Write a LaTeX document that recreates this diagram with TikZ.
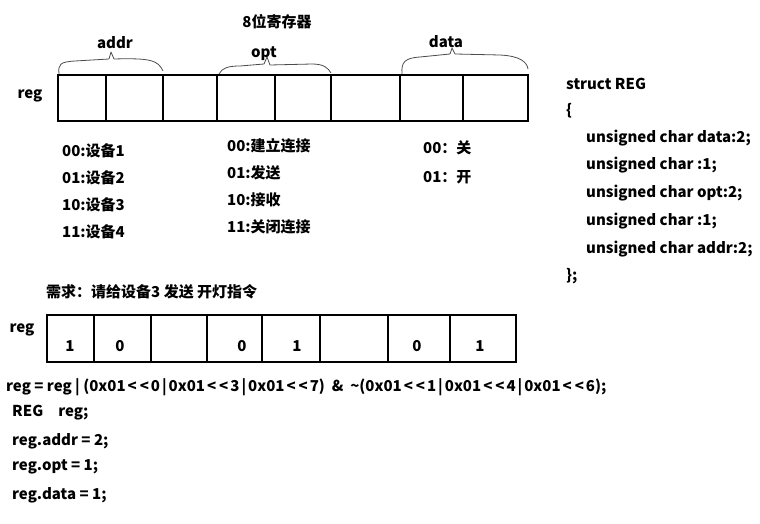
\documentclass[tikz,border=0pt]{standalone}
\usepackage{fontspec}
\setmainfont{Noto Sans CJK SC}
\usetikzlibrary{positioning}
\tikzset{
  lbl/.style={font=\fontsize{15}{17}\selectfont\bfseries, inner sep=0pt},
  txt/.style={lbl, anchor=west},
  cellbox/.style={draw, line width=2.4pt},
  brc/.style={draw=black!70, line width=0.8pt, line join=round}
}
\newcommand\shl{\kern2pt<\kern3pt<\kern2pt}
\newcommand\bor{\kern2pt|\kern2pt}

\begin{document}
\begin{tikzpicture}[x=1pt,y=-1pt]
    \useasboundingbox (0,0) rectangle (760,524);

    % Title and field names
    \node[lbl] (title) at (277,22) {8位寄存器};
    \node[lbl] (addrname) at (115,43) {addr};
    \node[lbl] (optname) at (264,54) {opt};
    \node[lbl] (dataname) at (446,42) {data};

    % Upper register, 8 cells
    \node[lbl] (reg1) at (30,96) {reg};
    \draw[cellbox] (58,75) rectangle (528,121);
    \foreach \x in {106,163,217,275,331,400,463} {
        \draw[cellbox] (\x,75) -- (\x,121);
    }

    % Hand drawn braces
    \draw[brc] (59,74) .. controls (58,64) and (60,62) .. (75,61) -- (109,59) -- (111,52) -- (114,59)
        .. controls (150,58) and (158,60) .. (163,71);
    \draw[brc] (219,74) .. controls (222,68) and (228,66) .. (240,66) -- (264,64) -- (267,57) -- (270,65)
        -- (312,64) .. controls (324,64) and (328,68) .. (331,73);
    \draw[brc] (402,74) .. controls (401,62) and (405,58) .. (420,57) -- (450,54) -- (452,48) -- (455,54)
        -- (500,55) .. controls (520,56) and (527,62) .. (528,69);

    % Field codes
    \foreach \t [count=\i] in {00:设备1,01:设备2,10:设备3,11:设备4} {
        \node[txt] (addr\i) at (62,124+27*\i) {\t};
    }
    \foreach \t [count=\i] in {00:建立连接,01:发送,10:接收,11:关闭连接} {
        \node[txt] (opt\i) at (227,119+27*\i) {\t};
    }
    \node[txt] (data1) at (423,148) {00：关};
    \node[txt] (data2) at (423,177) {01：开};

    \node[txt] (need) at (46,292) {需求：请给设备3 发送 开灯指令};

    % Struct definition
    \node[txt] (st1) at (566,84) {struct REG};
    \node[txt] (st2) at (566,111) {\{};
    \node[txt] (st3) at (586,138) {unsigned char data:2;};
    \node[txt] (st4) at (586,165) {unsigned char :1;};
    \node[txt] (st5) at (586,193) {unsigned char opt:2;};
    \node[txt] (st6) at (586,221) {unsigned char :1;};
    \node[txt] (st7) at (586,249) {unsigned char addr:2;};
    \node[txt] (st8) at (566,276) {\};};

    % Lower register with values
    \node[lbl] (reg2) at (22,330) {reg};
    \draw[cellbox] (47,315) rectangle (516,362);
    \foreach \x in {94,151,207,262,320,388,450} {
        \draw[cellbox] (\x,315) -- (\x,362);
    }
    \foreach \x/\v [count=\i] in {70/1,120/0,242/0,297/1,417/0,480/1} {
        \node[lbl] (bit\i) at (\x,346) {\v};
    }

    % Code lines
    \node[txt] (code1) at (6,387) {reg = reg | (0x01\shl0\bor0x01\shl3\bor0x01\shl7)\ \ \&\ \ \textasciitilde(0x01\shl1\bor0x01\shl4\bor0x01\shl6);};
    \node[txt] (code2) at (12,413) {REG\quad reg;};
    \node[txt] (code3) at (12,441) {reg.addr\ =\ 2;};
    \node[txt] (code4) at (12,467) {reg.opt\ =\ 1;};
    \node[txt] (code5) at (12,495) {reg.data\ =\ 1;};
\end{tikzpicture}
\end{document}
